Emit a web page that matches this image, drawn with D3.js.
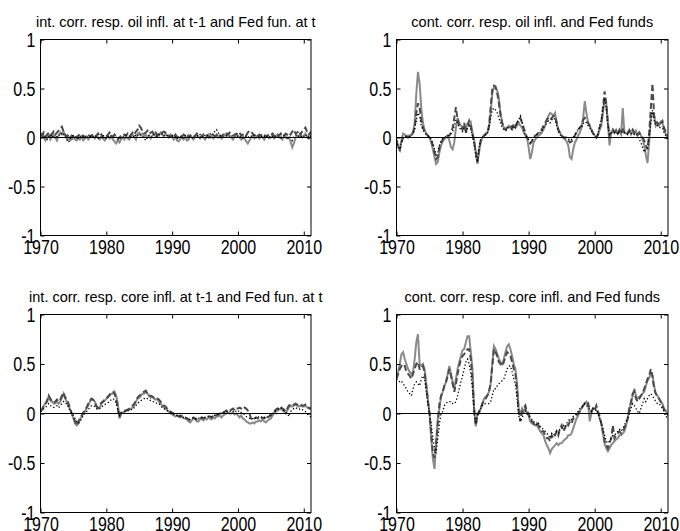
<!DOCTYPE html>
<html lang="en">
<head>
    <meta charset="UTF-8">
    <title>Correlation responses</title>
    <script src="https://d3js.org/d3.v7.min.js"></script>
    <style>
      body { margin: 0; background: #fff; }
      svg { display: block; }
      text { font-family: "Liberation Sans", Arial, Helvetica, sans-serif; fill: #000; }
      .tick-label { font-size: 16px; }
      .title { font-size: 14.5px; }
    </style>
</head>
<body>
<svg width="680" height="531"></svg>
<script>
    // quarterly observations, first one at 1970Q1
    const startYear = 1970;
    const step = 0.25;

    const titles = [
        "int. corr. resp. oil infl. at t-1 and Fed fun. at t",
        "cont. corr. resp. oil infl. and Fed funds",
        "int. corr. resp. core infl. at t-1 and Fed fun. at t",
        "cont. corr. resp. core infl. and Fed funds"
    ];
    const xTicks = [1970, 1980, 1990, 2000, 2010];
    const yTicks = [-1, -0.5, 0, 0.5, 1];
    const yTickLabels = ["-1", "-0.5", "0", "0.5", "1"];

    // panel 1: int. corr., oil inflation
    const oilIntSolid = [
        0.02,0.04,0.01,-0.03, 0.00,0.03,-0.02,0.01, 0.03,0.00,-0.03,0.02, 0.05,0.03,0.06,0.02,
        -0.02,0.00,-0.03,-0.02, 0.00,-0.02,-0.03,0.00, -0.02,0.01,-0.03,-0.01, 0.01,-0.02,0.00,0.02,
        0.01,-0.01,0.02,0.00, -0.02,0.01,-0.01,-0.03, 0.00,0.02,-0.01,0.01, -0.02,-0.04,-0.06,-0.03,
        -0.05,-0.02,0.00,-0.02, 0.01,-0.01,-0.02,0.02, 0.03,0.01,-0.02,0.04, 0.05,0.02,0.04,0.01,
        0.03,0.00,0.02,-0.01, 0.02,0.04,0.01,0.03, 0.02,0.05,0.03,0.01, 0.04,0.02,0.00,0.03,
        0.01,-0.02,0.01,-0.03, -0.04,-0.01,0.00,-0.02, 0.01,-0.03,-0.02,0.02, 0.00,-0.02,0.01,0.03,
        0.01,-0.01,0.02,0.00, -0.02,0.01,0.03,0.00, 0.02,-0.01,0.01,0.03, 0.00,0.02,-0.01,0.01,
        0.03,0.01,0.04,0.02, 0.00,-0.02,0.01,0.03, 0.02,0.00,-0.02,0.01, -0.01,-0.04,-0.06,-0.03,
        0.00,0.02,-0.01,0.01, 0.02,-0.01,0.01,0.00, -0.02,0.01,0.02,-0.01, 0.00,0.02,-0.01,0.01,
        0.03,0.00,0.01,-0.02, 0.01,0.02,-0.01,0.00, -0.04,-0.10,-0.06,0.00, 0.02,0.01,0.03,0.00,
        0.02,0.04,0.01,-0.01, 0.02,0.00
    ];
    const oilIntDashed = [
        0.04,0.02,0.05,0.01, 0.03,0.05,0.02,0.04, 0.06,0.03,0.05,0.07, 0.09,0.11,0.06,0.03,
        0.01,0.03,0.00,0.02, 0.01,0.03,0.00,0.02, 0.03,0.01,0.02,0.00, 0.02,0.03,0.01,0.02,
        0.03,0.01,0.02,0.04, 0.01,0.03,0.00,0.02, 0.01,0.03,0.05,0.02, 0.01,0.03,0.00,-0.02,
        0.00,0.02,0.01,0.03, 0.02,0.04,0.01,0.03, 0.05,0.03,0.06,0.08, 0.12,0.10,0.06,0.04,
        0.05,0.07,0.04,0.05, 0.06,0.03,0.05,0.02, 0.04,0.03,0.05,0.06, 0.05,0.03,0.02,0.01,
        0.02,0.00,0.03,0.01, 0.00,0.02,0.01,0.03, 0.01,0.02,0.00,0.02, 0.03,0.01,0.02,0.04,
        0.02,0.00,0.01,0.03, 0.01,0.02,0.00,0.01, 0.02,0.03,0.01,0.02, 0.04,0.02,0.01,0.03,
        0.02,0.04,0.03,0.05, 0.04,0.02,0.03,0.04, 0.03,0.05,0.02,0.03, 0.04,0.02,0.05,0.07,
        0.06,0.04,0.02,0.03, 0.01,0.03,0.02,0.04, 0.03,0.01,0.02,0.03, 0.02,0.04,0.02,0.01,
        0.03,0.02,0.04,0.01, 0.02,0.04,0.03,0.05, 0.03,0.06,0.08,0.04, 0.05,0.07,0.03,0.06,
        0.08,0.10,0.06,0.03, 0.05,0.02
    ];
    const oilIntDotted = [
        0.01,-0.01,0.02,0.00, -0.02,0.01,0.03,0.00, 0.02,-0.01,0.01,0.03, 0.02,0.05,0.03,0.01,
        -0.01,-0.05,-0.02,0.01, 0.02,0.00,0.01,-0.01, 0.01,0.02,0.00,0.01, -0.01,0.01,0.02,0.00,
        0.01,0.02,0.00,-0.01, 0.01,0.00,0.02,0.01, -0.01,0.01,0.00,0.02, 0.01,-0.01,0.00,0.01,
        -0.02,0.00,0.01,0.00, 0.02,0.01,-0.01,0.01, 0.02,0.00,0.03,0.02, 0.04,0.02,0.01,-0.01,
        -0.03,0.01,0.02,0.00, 0.01,0.03,0.02,0.01, 0.03,0.02,0.04,0.02, 0.01,0.02,0.00,0.01,
        0.02,0.00,0.01,-0.01, 0.00,0.01,-0.01,0.00, 0.02,0.01,0.03,0.00, -0.01,0.01,0.00,0.02,
        0.01,0.03,0.01,0.00, 0.02,0.01,0.03,0.04, 0.02,0.05,0.06,0.08, 0.05,0.02,0.01,0.00,
        0.01,0.02,0.00,0.01, 0.02,0.01,0.00,0.02, 0.01,0.00,0.01,-0.01, 0.00,0.02,0.01,0.00,
        0.01,0.03,0.02,0.00, -0.01,0.01,0.00,0.02, 0.01,0.00,0.02,0.01, 0.00,0.01,0.02,0.00,
        0.01,0.00,-0.01,0.01, 0.02,0.00,-0.02,0.01, 0.00,-0.03,0.01,0.02, 0.03,0.01,0.02,0.00,
        0.01,0.03,0.00,0.01, 0.02,0.00
    ];

    // panel 2: cont. corr., oil inflation
    const oilContSolid = [
        -0.02,-0.10,-0.12,-0.03, 0.04,0.03,0.01,0.02, 0.02,0.03,0.05,0.15, 0.45,0.67,0.55,0.30,
        0.15,0.08,0.04,0.02, 0.00,-0.05,-0.12,-0.20, -0.27,-0.25,-0.15,-0.08, -0.04,-0.02,0.00,0.01,
        -0.03,-0.10,-0.12,-0.05, 0.10,0.20,0.15,0.12, 0.10,0.12,0.08,0.14, 0.12,0.15,0.05,-0.02,
        -0.15,-0.27,-0.15,-0.05, 0.00,0.02,0.04,0.05, 0.10,0.25,0.45,0.52, 0.50,0.48,0.40,0.25,
        0.15,0.10,0.08,0.10, 0.12,0.10,0.08,0.12, 0.10,0.12,0.15,0.12, 0.10,0.05,0.02,0.00,
        -0.10,-0.22,-0.15,-0.05, -0.02,0.00,0.02,0.03, 0.05,0.08,0.12,0.18, 0.22,0.25,0.24,0.22,
        0.25,0.15,0.08,0.05, 0.02,0.00,-0.02,-0.04, -0.08,-0.20,-0.22,-0.12, -0.05,-0.02,0.02,0.05,
        0.10,0.20,0.37,0.25, 0.15,0.12,0.08,0.05, 0.02,0.00,0.02,0.08, 0.12,0.25,0.40,0.35,
        0.15,-0.08,0.05,0.08, 0.05,0.08,0.04,0.06, 0.03,0.30,0.05,0.04, 0.05,0.08,0.03,0.06,
        0.04,0.07,0.02,0.05, 0.02,-0.02,-0.08,-0.18, -0.26,-0.05,0.20,0.25, 0.22,0.12,0.15,0.12,
        0.16,0.15,0.08,0.04, 0.00,-0.03
    ];
    const oilContDashed = [
        -0.03,-0.10,-0.13,-0.05, 0.00,0.02,0.01,0.00, 0.01,0.02,0.05,0.10, 0.25,0.35,0.30,0.18,
        0.10,0.06,0.04,0.02, 0.00,-0.03,-0.08,-0.15, -0.22,-0.20,-0.10,-0.05, -0.02,0.00,0.01,0.02,
        0.02,0.05,0.10,0.20, 0.31,0.18,0.12,0.10, 0.08,0.15,0.05,0.12, 0.17,0.12,0.03,-0.05,
        -0.15,-0.25,-0.12,-0.03, 0.00,0.02,0.03,0.05, 0.12,0.30,0.50,0.53, 0.52,0.45,0.35,0.22,
        0.15,0.10,0.08,0.10, 0.12,0.12,0.10,0.14, 0.12,0.15,0.18,0.20, 0.15,0.10,0.05,0.00,
        -0.03,-0.06,-0.04,0.00, 0.02,0.03,0.05,0.06, 0.08,0.12,0.15,0.18, 0.20,0.18,0.20,0.22,
        0.22,0.15,0.08,0.04, 0.02,0.00,0.00,-0.02, -0.03,-0.05,-0.04,-0.02, 0.02,0.05,0.08,0.10,
        0.12,0.18,0.20,0.18, 0.15,0.12,0.08,0.04, 0.02,0.00,0.03,0.10, 0.15,0.30,0.47,0.35,
        0.15,0.02,0.05,0.08, 0.05,0.07,0.04,0.08, 0.05,0.08,0.05,0.06, 0.04,0.07,0.05,0.08,
        0.05,0.06,0.03,0.05, 0.02,0.00,-0.03,-0.08, -0.12,0.05,0.30,0.55, 0.22,0.15,0.15,0.12,
        0.15,0.17,0.10,0.06, 0.03,0.02
    ];
    const oilContDotted = [
        -0.03,-0.10,-0.12,-0.05, 0.00,0.01,0.01,0.00, 0.01,0.02,0.04,0.08, 0.18,0.25,0.22,0.12,
        0.08,0.05,0.03,0.02, 0.00,-0.02,-0.06,-0.12, -0.18,-0.15,-0.08,-0.04, -0.01,0.00,0.01,0.02,
        0.02,0.04,0.06,0.12, 0.18,0.14,0.10,0.08, 0.06,0.10,0.05,0.10, 0.12,0.08,0.02,-0.06,
        -0.18,-0.25,-0.10,-0.02, 0.00,0.02,0.03,0.04, 0.10,0.20,0.28,0.30, 0.28,0.25,0.20,0.15,
        0.10,0.08,0.07,0.08, 0.10,0.10,0.08,0.12, 0.10,0.14,0.18,0.22, 0.16,0.08,0.03,0.00,
        -0.02,-0.05,-0.03,0.00, 0.01,0.03,0.04,0.05, 0.07,0.10,0.12,0.15, 0.17,0.15,0.18,0.20,
        0.18,0.12,0.06,0.03, 0.01,0.00,0.01,0.00, -0.01,-0.03,-0.02,0.00, 0.03,0.05,0.08,0.10,
        0.10,0.14,0.16,0.15, 0.12,0.10,0.07,0.04, 0.02,0.00,0.04,0.12, 0.18,0.30,0.40,0.30,
        0.12,0.03,0.04,0.06, 0.05,0.06,0.03,0.07, 0.04,0.06,0.05,0.05, 0.03,0.06,0.04,0.05,
        0.03,0.04,0.01,-0.02, -0.05,-0.10,-0.15,-0.12, -0.10,0.00,0.15,0.28, 0.18,0.12,0.12,0.10,
        0.10,0.10,0.05,0.02, -0.02,-0.03
    ];

    // panel 3: int. corr., core inflation
    const coreIntSolid = [
        0.03,0.05,0.08,0.10, 0.14,0.17,0.13,0.12, 0.10,0.10,0.12,0.10, 0.12,0.16,0.20,0.15,
        0.12,0.08,0.04,0.00, -0.05,-0.10,-0.12,-0.10, -0.06,-0.03,0.00,0.02, 0.05,0.08,0.12,0.14,
        0.14,0.12,0.08,0.05, 0.06,0.10,0.12,0.13, 0.15,0.16,0.18,0.20, 0.20,0.22,0.18,0.10,
        -0.05,0.00,0.01,0.02, 0.03,0.03,0.04,0.05, 0.06,0.08,0.12,0.15, 0.16,0.18,0.20,0.20,
        0.22,0.20,0.18,0.16, 0.17,0.15,0.14,0.15, 0.12,0.10,0.08,0.06, 0.05,0.03,0.02,0.00,
        -0.01,-0.02,-0.03,-0.02, -0.03,-0.04,-0.03,-0.05, -0.05,-0.06,-0.08,-0.09, -0.07,-0.05,-0.06,-0.08,
        -0.08,-0.06,-0.05,-0.07, -0.05,-0.06,-0.04,-0.05, -0.06,-0.04,-0.05,-0.03, -0.03,-0.02,-0.04,-0.02,
        -0.01,0.00,0.01,0.00, 0.00,0.01,-0.01,0.00, -0.02,-0.04,-0.02,-0.05, -0.06,-0.08,-0.09,-0.10,
        -0.10,-0.09,-0.10,-0.08, -0.08,-0.07,-0.08,-0.06, -0.08,-0.09,-0.07,-0.06, -0.05,-0.02,0.00,0.02,
        0.03,0.04,0.05,0.03, 0.02,0.00,0.03,0.06, 0.08,0.07,0.08,0.09, 0.08,0.07,0.08,0.07,
        0.07,0.08,0.06,0.05, 0.05,0.04
    ];
    const coreIntDashed = [
        0.02,0.04,0.07,0.10, 0.12,0.18,0.15,0.12, 0.11,0.12,0.14,0.12, 0.14,0.18,0.21,0.16,
        0.15,0.10,0.05,0.00, -0.04,-0.08,-0.12,-0.08, -0.05,-0.02,0.01,0.03, 0.06,0.10,0.13,0.15,
        0.14,0.11,0.07,0.06, 0.08,0.11,0.12,0.14, 0.15,0.17,0.19,0.21, 0.22,0.20,0.15,0.05,
        -0.04,0.01,0.02,0.03, 0.03,0.04,0.05,0.06, 0.08,0.10,0.13,0.16, 0.18,0.19,0.21,0.22,
        0.23,0.20,0.18,0.18, 0.17,0.16,0.16,0.15, 0.14,0.12,0.10,0.08, 0.07,0.05,0.04,0.02,
        0.01,0.00,-0.02,-0.02, -0.03,-0.02,-0.03,-0.04, -0.04,-0.05,-0.06,-0.07, -0.06,-0.04,-0.05,-0.06,
        -0.06,-0.05,-0.04,-0.05, -0.04,-0.04,-0.03,-0.03, -0.04,-0.02,-0.03,-0.01, -0.01,0.00,-0.01,0.01,
        0.02,0.03,0.02,0.03, 0.04,0.05,0.03,0.05, 0.05,0.06,0.05,0.04, 0.06,0.05,0.03,0.00,
        -0.05,-0.07,-0.05,-0.04, -0.05,-0.04,-0.03,-0.05, -0.04,-0.06,-0.04,-0.03, -0.02,0.00,0.02,0.04,
        0.05,0.06,0.07,0.05, 0.04,0.02,0.05,0.08, 0.09,0.08,0.09,0.10, 0.09,0.08,0.09,0.08,
        0.08,0.09,0.07,0.06, 0.05,0.05
    ];
    const coreIntDotted = [
        0.02,0.03,0.05,0.06, 0.08,0.10,0.08,0.07, 0.06,0.07,0.08,0.06, 0.08,0.10,0.12,0.10,
        0.10,0.06,0.03,0.00, -0.02,-0.05,-0.08,-0.10, -0.08,-0.05,-0.02,0.00, 0.02,0.04,0.06,0.08,
        0.08,0.07,0.05,0.04, 0.05,0.06,0.08,0.09, 0.10,0.11,0.12,0.14, 0.15,0.14,0.10,0.04,
        -0.02,0.00,0.01,0.02, 0.02,0.03,0.03,0.04, 0.04,0.06,0.08,0.10, 0.12,0.13,0.14,0.15,
        0.16,0.15,0.14,0.13, 0.12,0.12,0.11,0.10, 0.10,0.08,0.06,0.05, 0.04,0.03,0.02,0.01,
        0.00,-0.01,-0.02,-0.02, -0.03,-0.03,-0.04,-0.04, -0.05,-0.05,-0.06,-0.06, -0.05,-0.04,-0.05,-0.06,
        -0.05,-0.04,-0.04,-0.05, -0.04,-0.03,-0.03,-0.04, -0.03,-0.02,-0.02,-0.01, -0.01,0.00,0.00,0.01,
        0.01,0.02,0.01,0.02, 0.03,0.02,0.01,0.03, 0.02,0.03,0.01,0.00, -0.01,-0.03,-0.04,-0.05,
        -0.06,-0.05,-0.04,-0.05, -0.04,-0.03,-0.04,-0.03, -0.04,-0.05,-0.03,-0.02, -0.01,0.00,0.01,0.03,
        0.04,0.05,0.06,0.04, 0.03,0.01,0.00,-0.03, 0.02,0.04,0.05,0.06, 0.05,0.04,0.05,0.04,
        0.03,0.02,0.00,-0.02, -0.03,-0.04
    ];

    // panel 4: cont. corr., core inflation
    const coreContSolid = [
        0.38,0.42,0.50,0.60, 0.62,0.55,0.50,0.45, 0.42,0.40,0.42,0.55, 0.72,0.80,0.50,0.48,
        0.50,0.45,0.30,0.15, 0.00,-0.25,-0.45,-0.56, -0.30,-0.05,0.05,0.17, 0.22,0.28,0.32,0.40,
        0.48,0.40,0.32,0.25, 0.35,0.45,0.52,0.58, 0.64,0.65,0.72,0.78, 0.78,0.62,0.45,0.05,
        -0.13,0.00,0.00,0.05, 0.10,0.15,0.17,0.18, 0.22,0.30,0.50,0.68, 0.65,0.60,0.55,0.52,
        0.50,0.55,0.62,0.68, 0.70,0.65,0.58,0.50, 0.45,0.30,0.05,-0.02, 0.05,0.02,0.06,0.00,
        -0.02,-0.08,-0.10,-0.11, -0.12,-0.12,-0.15,-0.18, -0.20,-0.22,-0.28,-0.32, -0.35,-0.40,-0.36,-0.34,
        -0.32,-0.30,-0.32,-0.30, -0.30,-0.28,-0.26,-0.25, -0.22,-0.22,-0.20,-0.15, -0.10,-0.05,-0.02,0.02,
        0.05,0.08,0.10,0.12, 0.10,-0.08,0.00,0.05, 0.05,0.03,0.02,-0.05, -0.10,-0.20,-0.30,-0.35,
        -0.38,-0.35,-0.32,-0.30, -0.28,-0.26,-0.25,-0.22, -0.22,-0.20,-0.18,-0.12, -0.05,0.05,0.10,0.18,
        0.25,0.18,0.15,0.17, 0.18,0.20,0.22,0.28, 0.33,0.36,0.40,0.38, 0.28,0.20,0.18,0.15,
        0.12,0.10,0.05,0.03, 0.00,-0.02
    ];
    const coreContDashed = [
        0.35,0.40,0.45,0.48, 0.50,0.48,0.42,0.40, 0.38,0.35,0.40,0.45, 0.50,0.52,0.45,0.45,
        0.48,0.42,0.28,0.12, 0.00,-0.20,-0.40,-0.45, -0.30,-0.10,0.10,0.18, 0.22,0.28,0.32,0.38,
        0.45,0.38,0.30,0.22, 0.30,0.40,0.48,0.55, 0.58,0.60,0.62,0.65, 0.65,0.55,0.35,0.05,
        -0.12,-0.02,0.02,0.05, 0.10,0.13,0.15,0.18, 0.22,0.30,0.48,0.65, 0.62,0.58,0.52,0.50,
        0.48,0.52,0.58,0.62, 0.60,0.58,0.52,0.45, 0.40,0.25,0.02,-0.08, 0.02,0.05,0.08,0.02,
        0.00,-0.05,-0.08,-0.10, -0.12,-0.10,-0.12,-0.15, -0.18,-0.18,-0.22,-0.25, -0.25,-0.28,-0.22,-0.25,
        -0.22,-0.18,-0.22,-0.15, -0.12,-0.18,-0.15,-0.10, -0.12,-0.08,-0.10,-0.05, -0.04,-0.02,0.00,0.03,
        0.05,0.08,0.10,0.08, 0.10,0.05,0.02,0.05, 0.03,0.08,0.02,-0.03, -0.10,-0.18,-0.28,-0.32,
        -0.35,-0.30,-0.25,-0.12, -0.25,-0.22,-0.20,-0.18, -0.20,-0.18,-0.15,-0.10, -0.05,0.05,0.12,0.20,
        0.22,0.15,0.12,0.15, 0.18,0.20,0.25,0.30, 0.35,0.38,0.45,0.38, 0.25,0.20,0.18,0.15,
        0.12,0.08,0.04,0.02, 0.00,-0.03
    ];
    const coreContDotted = [
        0.35,0.33,0.32,0.33, 0.30,0.28,0.25,0.22, 0.20,0.18,0.25,0.30, 0.32,0.30,0.28,0.35,
        0.38,0.35,0.22,0.10, 0.00,-0.10,-0.25,-0.35, -0.40,-0.25,-0.10,0.00, 0.02,0.08,0.10,0.12,
        0.12,0.12,0.10,0.10, 0.12,0.18,0.25,0.32, 0.38,0.45,0.52,0.55, 0.50,0.40,0.25,0.00,
        -0.10,-0.02,0.02,0.05, 0.08,0.10,0.10,0.10, 0.10,0.12,0.18,0.25, 0.25,0.28,0.30,0.32,
        0.33,0.35,0.40,0.45, 0.48,0.48,0.42,0.35, 0.30,0.15,-0.02,-0.08, -0.05,0.00,0.03,0.00,
        -0.02,-0.05,-0.06,-0.08, -0.10,-0.12,-0.10,-0.13, -0.15,-0.16,-0.18,-0.20, -0.22,-0.25,-0.20,-0.22,
        -0.20,-0.18,-0.20,-0.15, -0.15,-0.12,-0.14,-0.10, -0.08,-0.05,-0.06,-0.03, -0.02,0.00,0.02,0.05,
        0.06,0.08,0.10,0.08, 0.06,0.04,0.02,0.05, 0.03,0.04,0.00,-0.05, -0.10,-0.15,-0.22,-0.28,
        -0.30,-0.28,-0.25,-0.22, -0.22,-0.20,-0.18,-0.16, -0.18,-0.15,-0.12,-0.08, -0.05,0.00,0.05,0.10,
        0.08,0.05,0.02,0.00, 0.05,0.10,0.15,0.12, 0.15,0.18,0.20,0.18, 0.15,0.12,0.10,0.10,
        0.08,0.05,0.02,-0.02, -0.05,-0.07
    ];

    // layout of the four axes boxes (pixels)
    let panels = [
        { x: 40.5, y: 39.5, w: 270.5, h: 196, title: titles[0], series: [oilIntSolid, oilIntDashed, oilIntDotted] },
        { x: 396.5, y: 39.5, w: 271.5, h: 196, title: titles[1], series: [oilContSolid, oilContDashed, oilContDotted] },
        { x: 40.5, y: 314.5, w: 270.5, h: 198, title: titles[2], series: [coreIntSolid, coreIntDashed, coreIntDotted] },
        { x: 396.5, y: 314.5, w: 271.5, h: 198, title: titles[3], series: [coreContSolid, coreContDashed, coreContDotted] }
    ];
    let lineStyles = [
        { stroke: "#8a8a8a", width: 2, dash: null },
        { stroke: "#4a4a4a", width: 2, dash: "6,3" },
        { stroke: "#000", width: 1.3, dash: "1.3,2.2" }
    ];
    // tick labels are drawn taller than wide, like the screen font of the original
    let stretch = 1.3;

    let svg = d3.select("svg");

    panels.forEach(p => {
        let g = svg.append("g").attr("transform", `translate(${p.x},${p.y})`);
        let x = d3.scaleLinear().domain([1970, 2011.1]).range([0, p.w]);
        let y = d3.scaleLinear().domain([-1, 1]).range([p.h, 0]);

        let clip = "clip" + Math.round(p.x) + "_" + Math.round(p.y);
        g.append("clipPath").attr("id", clip).append("rect").attr("width", p.w).attr("height", p.h);

        let plot = g.append("g").attr("clip-path", `url(#${clip})`);
        let line = d3.line().x((d, i) => x(startYear + i * step)).y(d => y(d));
        p.series.forEach((s, k) => {
            let st = lineStyles[k];
            plot.append("path").datum(s)
                .attr("fill", "none")
                .attr("stroke", st.stroke)
                .attr("stroke-width", st.width)
                .attr("stroke-dasharray", st.dash)
                .attr("d", line);
        });
        // zero line
        plot.append("line").attr("x1", 0).attr("x2", p.w)
            .attr("y1", y(0)).attr("y2", y(0))
            .attr("stroke", "#000").attr("stroke-width", 1);

        // matlab style axes: ticks inside, on all four sides
        let tickLen = 4;
        g.append("g").attr("transform", `translate(0,${p.h})`)
            .call(d3.axisBottom(x).tickValues(xTicks).tickSize(-tickLen).tickFormat(d3.format("d")).tickPadding(2.6))
            .call(a => a.select(".domain").remove());
        g.append("g")
            .call(d3.axisTop(x).tickValues(xTicks).tickSize(-tickLen).tickFormat(""))
            .call(a => a.select(".domain").remove());
        g.append("g")
            .call(d3.axisLeft(y).tickValues(yTicks).tickSize(-tickLen).tickPadding(5)
                .tickFormat((d, i) => yTickLabels[i]))
            .call(a => a.select(".domain").remove());
        g.append("g").attr("transform", `translate(${p.w},0)`)
            .call(d3.axisRight(y).tickValues(yTicks).tickSize(-tickLen).tickFormat(""))
            .call(a => a.select(".domain").remove());

        g.selectAll(".tick line").attr("stroke", "#000");
        g.selectAll("g").attr("font-size", null).attr("font-family", null);
        g.selectAll(".tick text")
            .attr("class", "tick-label")
            .attr("transform", `scale(1,${stretch})`);

        g.append("rect").attr("width", p.w).attr("height", p.h)
            .attr("fill", "none").attr("stroke", "#000").attr("stroke-width", 1);

        g.append("text").attr("class", "title")
            .attr("x", p.w / 2).attr("y", -13)
            .attr("text-anchor", "middle")
            .text(p.title);
    });
</script>
</body>
</html>
